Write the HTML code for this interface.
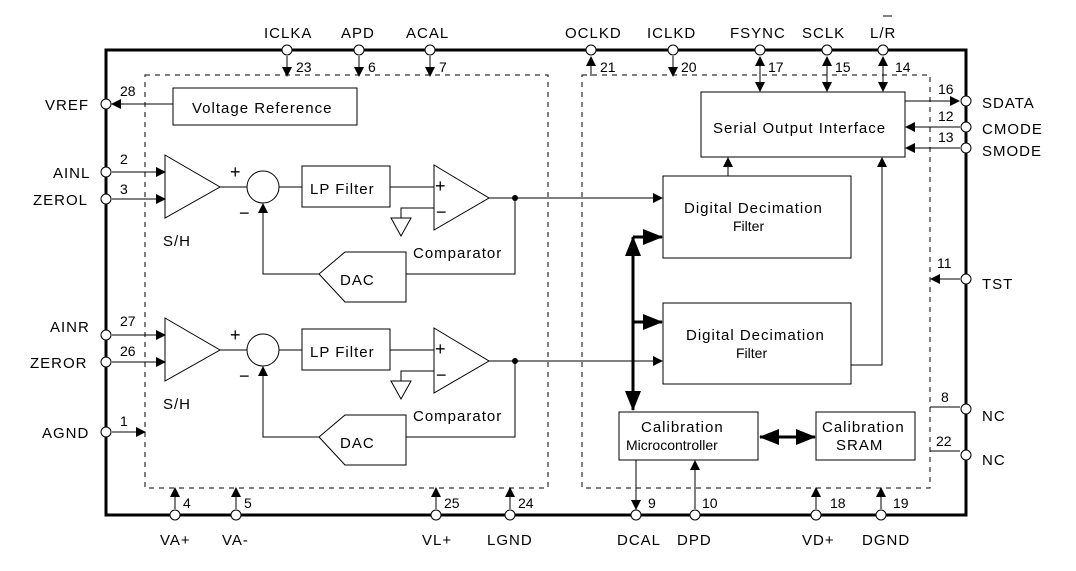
<!DOCTYPE html>
<html><head><style>body{margin:0;background:#fff}svg{display:block}text{font-family:"Liberation Sans",sans-serif;font-size:15px;fill:#000;letter-spacing:1px}.n{font-size:14px;letter-spacing:0}</style></head><body>
<svg width="1076" height="571" viewBox="0 0 1076 571" xmlns="http://www.w3.org/2000/svg">
<defs>
<marker id="a" markerWidth="10" markerHeight="10" refX="9" refY="5" orient="auto-start-reverse" markerUnits="userSpaceOnUse"><path d="M0,0 L10,5 L0,10z"/></marker>
<marker id="b" markerWidth="20" markerHeight="20" refX="19" refY="10" orient="auto-start-reverse" markerUnits="userSpaceOnUse"><path d="M0,2 L20,10 L0,18z"/></marker>
</defs>
<g fill="none" stroke="#000" stroke-width="1">
<rect x="106" y="50" width="860" height="465" stroke-width="3"/>
<rect x="145" y="75" width="403" height="413" stroke-dasharray="5,5"/>
<rect x="582" y="75" width="348" height="413" stroke-dasharray="5,5"/>
<rect x="173" y="88" width="184" height="37"/>
<line x1="173" y1="104" x2="112" y2="104" marker-end="url(#a)"/>
<!-- channels -->
<g id="ch">
<line x1="112" y1="172" x2="165" y2="172" marker-end="url(#a)"/>
<line x1="112" y1="199" x2="165" y2="199" marker-end="url(#a)"/>
<path d="M165,155 L220,187 L165,218z"/>
<line x1="220" y1="187" x2="247" y2="187"/>
<circle cx="263" cy="187" r="16"/>
<line x1="279" y1="187" x2="302" y2="187"/>
<rect x="302" y="166" width="88" height="41"/>
<line x1="390" y1="187" x2="434" y2="187"/>
<path d="M434,165 L489,198 L434,230z"/>
<path d="M434,208 L401,208 L401,218"/>
<path d="M391,218 L411,218 L401,236z"/>
<path d="M489,198 L515,198 L515,274 L406,274"/>
<path d="M406,252 L345,252 L319,274 L345,302 L406,302z"/>
<path d="M319,274 L263,274 L263,204" marker-end="url(#a)"/>
</g>
<use href="#ch" y="163"/>
<line x1="515" y1="198" x2="662" y2="198" marker-end="url(#a)"/>
<line x1="515" y1="361" x2="662" y2="361" marker-end="url(#a)"/>
<rect x="663" y="176" width="188" height="82"/>
<rect x="663" y="303" width="188" height="81"/>
<rect x="701" y="92" width="204" height="65"/>
<rect x="619" y="412" width="139" height="48"/>
<rect x="816" y="412" width="99" height="48"/>
<line x1="728" y1="176" x2="728" y2="158" marker-end="url(#a)"/>
<path d="M851,365 L882,365 L882,158" marker-end="url(#a)"/>
<line x1="633" y1="237" x2="633" y2="410" stroke-width="3" marker-start="url(#b)" marker-end="url(#b)"/>
<line x1="633" y1="237" x2="662" y2="237" stroke-width="3" marker-end="url(#b)"/>
<line x1="633" y1="322" x2="662" y2="322" stroke-width="3" marker-end="url(#b)"/>
<line x1="760" y1="437" x2="815" y2="437" stroke-width="3" marker-start="url(#b)" marker-end="url(#b)"/>
<!-- right pins -->
<line x1="905" y1="101" x2="959" y2="101" marker-end="url(#a)"/>
<line x1="960" y1="127" x2="906" y2="127" marker-end="url(#a)"/>
<line x1="960" y1="148" x2="906" y2="148" marker-end="url(#a)"/>
<line x1="960" y1="279" x2="931" y2="279" marker-end="url(#a)"/>
<line x1="930" y1="407" x2="960" y2="407"/>
<line x1="930" y1="451" x2="960" y2="451"/>
<!-- top pins -->
<line x1="287" y1="56" x2="287" y2="76" marker-end="url(#a)"/>
<line x1="359" y1="56" x2="359" y2="76" marker-end="url(#a)"/>
<line x1="430" y1="56" x2="430" y2="76" marker-end="url(#a)"/>
<line x1="591" y1="76" x2="591" y2="57" marker-end="url(#a)"/>
<line x1="673" y1="56" x2="673" y2="76" marker-end="url(#a)"/>
<line x1="760" y1="57" x2="760" y2="91" marker-start="url(#a)" marker-end="url(#a)"/>
<line x1="827" y1="57" x2="827" y2="91" marker-start="url(#a)" marker-end="url(#a)"/>
<line x1="883" y1="57" x2="883" y2="91" marker-start="url(#a)" marker-end="url(#a)"/>
<!-- bottom pins -->
<line x1="175" y1="509" x2="175" y2="488" marker-end="url(#a)"/>
<line x1="236" y1="509" x2="236" y2="488" marker-end="url(#a)"/>
<line x1="436" y1="509" x2="436" y2="488" marker-end="url(#a)"/>
<line x1="510" y1="509" x2="510" y2="488" marker-end="url(#a)"/>
<line x1="636" y1="460" x2="636" y2="509" marker-end="url(#a)"/>
<line x1="695" y1="509" x2="695" y2="461" marker-end="url(#a)"/>
<line x1="816" y1="509" x2="816" y2="488" marker-end="url(#a)"/>
<line x1="881" y1="509" x2="881" y2="488" marker-end="url(#a)"/>
<line x1="112" y1="432" x2="145" y2="432" marker-end="url(#a)"/>
</g>
<g fill="#fff" stroke="#000" stroke-width="1">
<circle cx="106" cy="104" r="5"/><circle cx="106" cy="172" r="5"/><circle cx="106" cy="199" r="5"/><circle cx="106" cy="335" r="5"/><circle cx="106" cy="362" r="5"/><circle cx="106" cy="432" r="5"/>
<circle cx="966" cy="101" r="5"/><circle cx="966" cy="127" r="5"/><circle cx="966" cy="148" r="5"/><circle cx="966" cy="279" r="5"/><circle cx="966" cy="409" r="5"/><circle cx="966" cy="455" r="5"/>
<circle cx="287" cy="50" r="5"/><circle cx="359" cy="50" r="5"/><circle cx="430" cy="50" r="5"/><circle cx="591" cy="50" r="5"/><circle cx="673" cy="50" r="5"/><circle cx="760" cy="50" r="5"/><circle cx="827" cy="50" r="5"/><circle cx="883" cy="50" r="5"/>
<circle cx="175" cy="515" r="5"/><circle cx="236" cy="515" r="5"/><circle cx="436" cy="515" r="5"/><circle cx="510" cy="515" r="5"/><circle cx="636" cy="515" r="5"/><circle cx="695" cy="515" r="5"/><circle cx="816" cy="515" r="5"/><circle cx="881" cy="515" r="5"/>
</g>
<circle cx="515" cy="198" r="3"/><circle cx="515" cy="361" r="3"/>
<text x="192" y="113">Voltage Reference</text>
<text x="310" y="194">LP Filter</text><text x="310" y="357">LP Filter</text>
<text x="163" y="246">S/H</text><text x="163" y="409">S/H</text>
<text x="413" y="258">Comparator</text><text x="413" y="421">Comparator</text>
<text x="340" y="285">DAC</text><text x="340" y="448">DAC</text>
<text x="230" y="178" style="font-size:18px">+</text><text x="230" y="341" style="font-size:18px">+</text>
<text x="239" y="219" style="font-size:18px">−</text><text x="239" y="382" style="font-size:18px">−</text>
<text x="435" y="192" style="font-size:18px">+</text><text x="435" y="355" style="font-size:18px">+</text>
<text x="436" y="218" style="font-size:18px">−</text><text x="436" y="381" style="font-size:18px">−</text>
<text x="713" y="133">Serial Output Interface</text>
<text x="684" y="213">Digital Decimation</text><text x="733" y="231" style="font-size:14px;letter-spacing:0">Filter</text>
<text x="686" y="340">Digital Decimation</text><text x="736" y="358" style="font-size:14px;letter-spacing:0">Filter</text>
<text x="641" y="432">Calibration</text><text x="626" y="450" style="font-size:14px;letter-spacing:0">Microcontroller</text>
<text x="822" y="432">Calibration</text><text x="836" y="450">SRAM</text>
<text x="45" y="110">VREF</text><text x="53" y="178">AINL</text><text x="33" y="205">ZEROL</text><text x="50" y="332">AINR</text><text x="30" y="368">ZEROR</text><text x="42" y="438">AGND</text>
<text class="n" x="120" y="96">28</text><text class="n" x="120" y="164">2</text><text class="n" x="120" y="194">3</text><text class="n" x="120" y="326">27</text><text class="n" x="120" y="356">26</text><text class="n" x="120" y="426">1</text>
<text x="982" y="108">SDATA</text><text x="982" y="134">CMODE</text><text x="982" y="156">SMODE</text><text x="982" y="289">TST</text><text x="982" y="421">NC</text><text x="982" y="465">NC</text>
<text class="n" x="938" y="94">16</text><text class="n" x="938" y="121">12</text><text class="n" x="938" y="142">13</text><text class="n" x="937" y="268">11</text><text class="n" x="941" y="402">8</text><text class="n" x="936" y="446">22</text>
<text x="264" y="38">ICLKA</text><text x="341" y="38">APD</text><text x="406" y="38">ACAL</text><text x="565" y="38">OCLKD</text><text x="647" y="38">ICLKD</text><text x="730" y="38">FSYNC</text><text x="802" y="38">SCLK</text><text x="870" y="38">L/R</text>
<line x1="883" y1="16" x2="892" y2="16" stroke="#000"/>
<text class="n" x="296" y="72">23</text><text class="n" x="368" y="72">6</text><text class="n" x="439" y="72">7</text><text class="n" x="600" y="72">21</text><text class="n" x="681" y="72">20</text><text class="n" x="768" y="72">17</text><text class="n" x="835" y="72">15</text><text class="n" x="895" y="72">14</text>
<text class="n" x="183" y="508">4</text><text class="n" x="244" y="508">5</text><text class="n" x="444" y="508">25</text><text class="n" x="518" y="508">24</text><text class="n" x="648" y="508">9</text><text class="n" x="702" y="508">10</text><text class="n" x="830" y="508">18</text><text class="n" x="893" y="508">19</text>
<text x="160" y="545">VA+</text><text x="222" y="545">VA-</text><text x="422" y="545">VL+</text><text x="487" y="545">LGND</text><text x="617" y="545">DCAL</text><text x="677" y="545">DPD</text><text x="802" y="545">VD+</text><text x="862" y="545">DGND</text>
</svg>
</body></html>
